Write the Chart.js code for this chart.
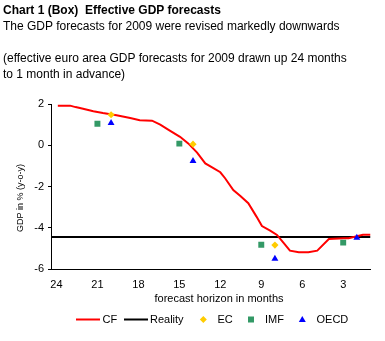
<!DOCTYPE html>
<html lang="en">
<head>
<meta charset="UTF-8">
<title>Effective GDP forecasts</title>
<script src="https://cdn.jsdelivr.net/npm/chart.js"></script>
<style>
  body { margin: 0; background: #fff; }
  #wrap { position: relative; width: 385px; height: 341px; overflow: hidden; font-family: "Liberation Sans", Arial, sans-serif; color: #000; }
  .t { position: absolute; left: 3px; font-size: 12px; line-height: 14px; white-space: nowrap; }
  .b { font-weight: bold; }
  canvas { position: absolute; left: 0; top: 0; }
</style>
</head>
<body>
<div id="wrap">
  <canvas id="gdpChart" width="385" height="341"></canvas>
  <div class="t b" style="top:3px">Chart 1 (Box)&nbsp; Effective GDP forecasts</div>
  <div class="t" style="top:19px">The GDP forecasts for 2009 were revised markedly downwards</div>
  <div class="t" style="top:51px">(effective euro area GDP forecasts for 2009 drawn up 24 months</div>
  <div class="t" style="top:67px">to 1 month in advance)</div>
</div>

<script>
// forecast horizon (months before end of 2009) and values
const cfMonths = [23.9, 23.0, 22.6, 22.05, 21.3, 20.6, 19.6, 18.6, 17.9, 17.0, 16.4, 15.7, 14.95, 14.35, 13.7, 13.1, 12.6, 12.0, 11.65, 11.05, 10.55, 9.95, 9.35, 8.95, 8.35, 7.85, 7.35, 6.9, 6.25, 5.55, 4.9, 4.05, 2.95, 2.6, 1.55, 1.0];
const cfValues = [1.92, 1.92, 1.85, 1.77, 1.65, 1.56, 1.45, 1.32, 1.21, 1.19, 1.00, 0.71, 0.41, 0.09, -0.36, -0.88, -1.07, -1.31, -1.60, -2.17, -2.45, -2.81, -3.46, -3.92, -4.14, -4.35, -4.75, -5.11, -5.19, -5.19, -5.11, -4.55, -4.51, -4.51, -4.34, -4.34];

const realityValue = -4.45;

const ecMonths = [20, 14, 8];
const ecValues = [1.48, 0.05, -4.84];

const imfMonths = [21, 15, 9, 3];
const imfValues = [1.04, 0.08, -4.82, -4.72];

const oecdMonths = [20, 14, 8, 2];
const oecdValues = [1.08, -0.76, -5.50, -4.48];

const xTicks = [24, 21, 18, 15, 12, 9, 6, 3];
const xMin = 1.0, xMax = 24.4;

const FONT = '"Liberation Sans", Arial, sans-serif';
const pts = (xs, ys) => xs.map((x, i) => ({ x: x, y: ys[i] }));

const colors = { cf: '#ff0000', reality: '#000000', ec: '#ffcc00', imf: '#339966', oecd: '#0000ff' };

// axis titles and legend, placed like the original
const decorations = {
  id: 'decorations',
  afterDraw(chart) {
    const ctx = chart.ctx;
    ctx.save();
    ctx.fillStyle = '#000';

    // y axis title
    ctx.save();
    ctx.translate(21, 198);
    ctx.rotate(-Math.PI / 2);
    ctx.font = '9px ' + FONT;
    ctx.textAlign = 'center';
    ctx.textBaseline = 'middle';
    ctx.fillText('GDP in % (y-o-y)', 0, 0);
    ctx.restore();

    // x axis title
    ctx.font = '11px ' + FONT;
    ctx.textAlign = 'center';
    ctx.textBaseline = 'alphabetic';
    ctx.fillText('forecast horizon in months', 219, 301.5);

    // legend
    const ly = 319.5;
    ctx.textAlign = 'left';
    ctx.lineWidth = 2;
    ctx.strokeStyle = colors.cf;
    ctx.beginPath(); ctx.moveTo(76, ly); ctx.lineTo(100, ly); ctx.stroke();
    ctx.fillText('CF', 102.5, 323);
    ctx.strokeStyle = colors.reality;
    ctx.beginPath(); ctx.moveTo(124, ly); ctx.lineTo(148, ly); ctx.stroke();
    ctx.fillText('Reality', 150, 323);

    ctx.fillStyle = colors.ec;
    ctx.beginPath();
    ctx.moveTo(203.3, ly - 3.5); ctx.lineTo(206.8, ly); ctx.lineTo(203.3, ly + 3.5); ctx.lineTo(199.8, ly);
    ctx.closePath(); ctx.fill();
    ctx.fillStyle = '#000';
    ctx.fillText('EC', 217.5, 323);

    ctx.fillStyle = colors.imf;
    ctx.fillRect(248, ly - 3, 6, 6);
    ctx.fillStyle = '#000';
    ctx.fillText('IMF', 265, 323);

    ctx.fillStyle = colors.oecd;
    ctx.beginPath();
    ctx.moveTo(302.3, ly - 3.5); ctx.lineTo(305.8, ly + 2.5); ctx.lineTo(298.8, ly + 2.5);
    ctx.closePath(); ctx.fill();
    ctx.fillStyle = '#000';
    ctx.fillText('OECD', 316.5, 323);

    ctx.restore();
  }
};

new Chart(document.getElementById('gdpChart'), {
  type: 'line',
  data: {
    datasets: [
      { label: 'OECD', type: 'scatter', data: pts(oecdMonths, oecdValues), pointStyle: 'triangle', pointRadius: 4,
        backgroundColor: colors.oecd, borderColor: colors.oecd, borderWidth: 0, order: 0 },
      { label: 'IMF', type: 'scatter', data: pts(imfMonths, imfValues), pointStyle: 'rect', pointRadius: 4.2,
        backgroundColor: colors.imf, borderColor: colors.imf, borderWidth: 0, order: 1 },
      { label: 'EC', type: 'scatter', data: pts(ecMonths, ecValues), pointStyle: 'rectRot', pointRadius: 3.6,
        backgroundColor: colors.ec, borderColor: colors.ec, borderWidth: 0, order: 2 },
      { label: 'CF', data: pts(cfMonths, cfValues), borderColor: colors.cf, borderWidth: 2,
        pointRadius: 0, tension: 0, fill: false, order: 3 },
      { label: 'Reality', data: [{ x: xMax, y: realityValue }, { x: xMin, y: realityValue }],
        borderColor: colors.reality, borderWidth: 2, pointRadius: 0, fill: false, order: 4 }
    ]
  },
  options: {
    responsive: false,
    animation: false,
    events: [],
    layout: { padding: { top: 104, right: 14.5, bottom: 0, left: 0 } },
    plugins: { legend: { display: false }, tooltip: { enabled: false } },
    scales: {
      x: {
        type: 'linear',
        reverse: true,
        min: xMin,
        max: xMax,
        afterBuildTicks: (scale) => { scale.ticks = xTicks.map(v => ({ value: v })); },
        afterFit: (scale) => { scale.height = 72; },
        grid: { display: false },
        border: { display: true, color: '#000', width: 1 },
        ticks: { color: '#000', font: { family: FONT, size: 11 }, padding: 1, maxRotation: 0, autoSkip: false }
      },
      y: {
        min: -6,
        max: 2,
        afterFit: (scale) => { scale.width = 51; },
        grid: { drawOnChartArea: false, tickLength: 3, color: '#000' },
        border: { display: true, color: '#000', width: 1 },
        ticks: { stepSize: 2, color: '#000', font: { family: FONT, size: 11 }, padding: 4 }
      }
    }
  },
  plugins: [decorations]
});
</script>
</body>
</html>
